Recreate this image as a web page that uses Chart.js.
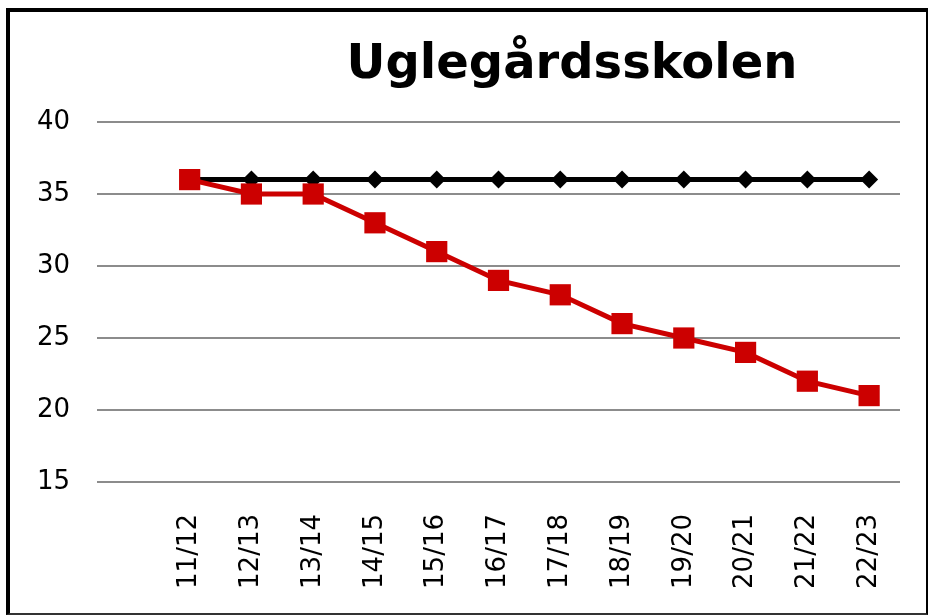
<!DOCTYPE html>
<html>
<head>
<meta charset="utf-8">
<script src="https://cdn.jsdelivr.net/npm/chart.js@4"></script>
<style>
  html, body { margin: 0; padding: 0; background: #fff; }
  #frame {
    position: absolute; left: 6px; top: 8px;
    width: 916px; height: 601px;
    border-left: 4px solid #000; border-top: 4px solid #000;
    border-right: 2px solid #000; border-bottom: 2px solid #333;
  }
  #title {
    position: absolute; left: 562px; top: 25px;
    transform: translateX(-50%);
    font: bold 48px "DejaVu Sans", Verdana, sans-serif;
    line-height: 1; white-space: nowrap; color: #000;
  }
  canvas { display: block; }
</style>
</head>
<body>
<div id="frame">
  <div id="title">Uglegårdsskolen</div>
  <canvas id="lineChart" width="916" height="601"></canvas>
</div>
<script>
// first category is left blank, as in the original sheet
const labels = ['', '11/12', '12/13', '13/14', '14/15', '15/16', '16/17', '17/18', '18/19', '19/20', '20/21', '21/22', '22/23'];
const elevtal = [null, 36, 35, 35, 33, 31, 29, 28, 26, 25, 24, 22, 21];
const maks = [null, 36, 36, 36, 36, 36, 36, 36, 36, 36, 36, 36, 36];
const yTicks = [15, 20, 25, 30, 35, 40];

document.addEventListener('DOMContentLoaded', function() {
    const ctx = document.getElementById('lineChart').getContext('2d');
    const font = { family: '"DejaVu Sans", Verdana, sans-serif', size: 26 };

    new Chart(ctx, {
        type: 'line',
        data: {
            labels: labels,
            datasets: [
                {
                    label: 'Elever',
                    data: elevtal,
                    borderColor: '#cc0000',
                    backgroundColor: '#cc0000',
                    borderWidth: 5,
                    pointStyle: 'rect',
                    pointRadius: 15,
                    pointBorderWidth: 0,
                    tension: 0
                },
                {
                    label: 'Max',
                    data: maks,
                    borderColor: '#000000',
                    backgroundColor: '#000000',
                    borderWidth: 5,
                    pointStyle: 'rectRot',
                    pointRadius: 9,
                    pointBorderWidth: 0,
                    tension: 0
                }
            ]
        },
        options: {
            responsive: false,
            animation: false,
            layout: { padding: { top: 110, right: 26, left: 0, bottom: 0 } },
            plugins: {
                legend: { display: false },
                title: { display: false },
                tooltip: { enabled: false }
            },
            scales: {
                x: {
                    offset: true,
                    grid: { display: false },
                    border: { display: false },
                    ticks: {
                        color: '#000',
                        font: font,
                        minRotation: 90,
                        maxRotation: 90,
                        autoSkip: false,
                        padding: 24
                    },
                    afterFit: function(scale) { scale.height = 131; }
                },
                y: {
                    min: 15,
                    max: 40,
                    afterBuildTicks: function(scale) {
                        scale.ticks = yTicks.map(v => ({ value: v }));
                    },
                    grid: { color: '#8c8c8c', lineWidth: 2, drawTicks: false },
                    border: { display: false },
                    ticks: { color: '#000', font: font, padding: 27 },
                    afterFit: function(scale) { scale.width = 87; }
                }
            }
        }
    });
});
</script>
</body>
</html>
